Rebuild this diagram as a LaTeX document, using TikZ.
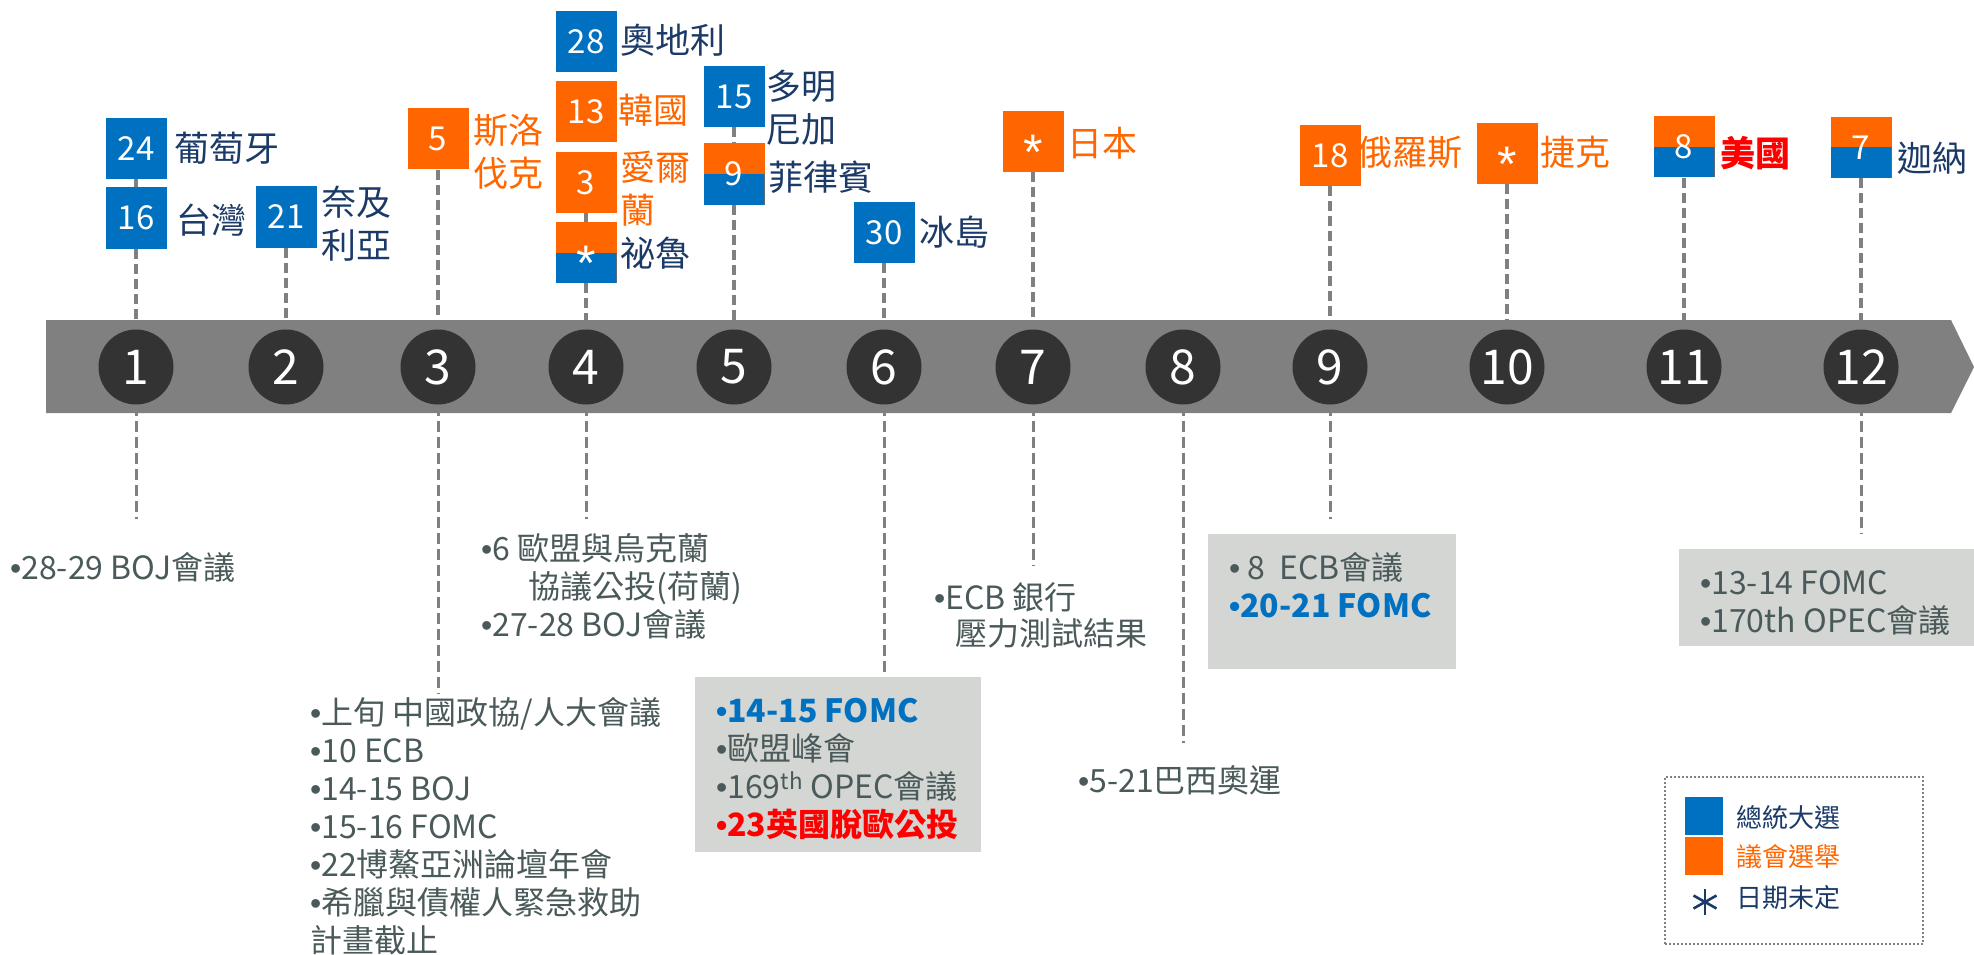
\documentclass[tikz,border=0pt]{standalone}
\usepackage{fontspec}
\setmainfont{Noto Sans CJK TC}
\newfontfamily\bufont{Liberation Sans}
\definecolor{cblue}{HTML}{0070C0}
\definecolor{corange}{HTML}{FF6600}
\definecolor{cnavy}{HTML}{1B3A68}
\definecolor{ctext}{HTML}{4A5959}
\definecolor{cgraybox}{HTML}{D4D6D3}
\definecolor{cbar}{HTML}{808080}
\definecolor{ccirc}{HTML}{333333}
\definecolor{cdash}{HTML}{808080}
\definecolor{cred}{HTML}{FF0000}
\pgfdeclarelayer{bg}
\pgfsetlayers{bg,main}
\newcommand\hs{\rule{0pt}{0.88em}}
\newcommand\bu{{\bufont •}}
\newcommand\tbdast{{\fontsize{50}{50}\bufont\raisebox{-0.21em}[0.716em][0pt]{*}}}
\begin{document}
\begin{tikzpicture}[x=1pt,y=-1pt,
  circ/.style={circle,fill=ccirc,minimum size=75,inner sep=0,text=white,font=\fontsize{48}{48}\selectfont},
  flagbox/.style={minimum width=61,minimum height=61,inner sep=0,text=white,font=\fontsize{33}{33}\selectfont},
  bluebox/.style={flagbox,fill=cblue},
  orangebox/.style={flagbox,fill=corange},
  splitbox/.style={flagbox,fill=corange,path picture={\fill[cblue] (path picture bounding box.west) rectangle (path picture bounding box.south east);}},
  lab/.style={inner sep=0,font=\fontsize{35}{43}\selectfont,align=left,text=cnavy},
  olab/.style={lab,text=corange},
  dashline/.style={draw=cdash,line width=3.5,dash pattern=on 10pt off 5pt},
  lowdash/.style={draw=cdash,line width=3,dash pattern=on 11pt off 5pt},
  txt/.style={inner sep=0,font=\fontsize{32}{38}\selectfont,align=left,text=ctext},
  graybox/.style={fill=cgraybox,inner sep=0,anchor=north west},
  legtxt/.style={inner sep=0,anchor=west,font=\fontsize{26}{30}\selectfont}
]
\useasboundingbox (0,0) rectangle (1974,955);

% timeline bar
\fill[cbar] (46,320) -- (1951,320) -- (1974,367) -- (1951,413) -- (46,413) -- cycle;

% month circles
\foreach \i/\x in {1/136,2/286,3/438,4/586,5/734,6/884,7/1033,8/1183,9/1330,10/1507,11/1684,12/1861}
  \node[circ] (c\i) at (\x,367) {\i};

% flag boxes
\node[bluebox] (b24) at (136,148.5) {24};
\node[bluebox] (b16) at (136,218) {16};
\node[bluebox] (b21) at (286,217) {21};
\node[orangebox] (b5) at (438,139) {5};
\node[bluebox] (b28) at (586,41.5) {28};
\node[orangebox] (b13) at (586,111.5) {13};
\node[orangebox] (b3) at (586,182.5) {3};
\node[splitbox] (bs4) at (586,252.5) {\tbdast};
\node[bluebox] (b15) at (734,96.5) {15};
\node[splitbox] (b9) at (734,174) {9};
\node[bluebox] (b30) at (884,232.5) {30};
\node[orangebox] (bjp) at (1033,141.5) {\tbdast};
\node[orangebox] (b18) at (1330,155.5) {18};
\node[orangebox] (bcz) at (1507,153.5) {\tbdast};
\node[splitbox] (b8) at (1684,147) {8};
\node[splitbox] (b7) at (1861,147.5) {7};

% country labels
\node[lab,anchor=west] (l24) at (174,148) {葡萄牙};
\node[lab,anchor=west] (l16) at (176,220) {台灣};
\node[lab,anchor=west] (l21) at (321,223.5) {奈及\\利亞};
\node[olab,anchor=west] (l5) at (473,151.5) {斯洛\\伐克};
\node[lab,anchor=west] (l28) at (620,40) {奧地利};
\node[olab,anchor=west] (l13) at (618,110) {韓國};
\node[olab,anchor=west] (l3) at (620,188.5) {愛爾\\蘭};
\node[lab,anchor=west] (ls4) at (620,253) {祕魯};
\node[lab,anchor=west] (l15) at (766,107.5) {多明\\尼加};
\node[lab,anchor=west] (l9) at (768,177) {菲律賓};
\node[lab,anchor=west] (l30) at (919,232) {冰島};
\node[olab,anchor=west] (ljp) at (1067,143) {日本};
\node[olab,anchor=west] (l18) at (1357,152) {俄羅斯};
\node[olab,anchor=west] (lcz) at (1540,152) {捷克};
\node[lab,anchor=west,text=cred,font=\fontsize{35}{43}\selectfont\bfseries] (l8) at (1720,153) {美國};
\node[lab,anchor=west] (l7) at (1897,158) {迦納};

% gray boxes
\node[graybox,minimum width=286,minimum height=175] (g6) at (695,677) {};
\node[graybox,minimum width=248,minimum height=135] (g9) at (1208,534) {};
\node[graybox,minimum width=295,minimum height=97] (g12) at (1679,549) {};

% free ends of lower connectors
\coordinate (e1) at (136,519);
\coordinate (e3) at (438,693);
\coordinate (e4) at (586,519);
\coordinate (e7) at (1033,565);
\coordinate (e8) at (1183,743);
\coordinate (e9) at (1330,519);
\coordinate (e12) at (1861,534);

% event texts
\node[txt,anchor=west] (t1) at (10,567) {\bu{}28-29 BOJ會議};
\node[txt,anchor=north west] (t3) at (310,696) {\hs\bu{}上旬 中國政協/人大會議\\\bu{}10 ECB\\\bu{}14-15 BOJ\\\bu{}15-16 FOMC\\\bu{}22博鰲亞洲論壇年會\\\bu{}希臘與債權人緊急救助\\計畫截止};
\node[txt,anchor=north west] (t4) at (481,532) {\hs\bu{}6 歐盟與烏克蘭\\\hspace*{47pt}協議公投(荷蘭)\\\bu{}27-28 BOJ會議};
\node[txt,anchor=north west] (t6) at (716,694) {\hs{\color{cblue}\bfseries \bu{}14-15 FOMC}\\\bu{}歐盟峰會\\\bu{}169\textsuperscript{th} OPEC會議\\{\color{cred}\bfseries \bu{}23英國脫歐公投}};
\node[txt,anchor=north west,font=\fontsize{32}{36}\selectfont] (t7) at (934,581) {\hs\bu{}ECB 銀行\\\hspace*{21pt}壓力測試結果};
\node[txt,anchor=west] (t8) at (1078,780) {\bu{}5-21巴西奧運};
\node[txt,anchor=north west] (t9) at (1229,551) {\hs\bu{}\ 8\ \ ECB會議\\{\color{cblue}\bfseries \bu{}20-21 FOMC}};
\node[txt,anchor=north west] (t12) at (1700,566) {\hs\bu{}13-14 FOMC\\\bu{}170th OPEC會議};

% legend
\node[draw=cdash,line width=2,dash pattern=on 2pt off 2pt,minimum width=258,minimum height=167,inner sep=0,anchor=north west] (legend) at (1664,776) {};
\node[fill=cblue,minimum width=38,minimum height=38,inner sep=0,anchor=north west] (kblue) at (1685,797) {};
\node[fill=corange,minimum width=38,minimum height=38,inner sep=0,anchor=north west] (korange) at (1685,837) {};
\coordinate (kast) at (1705,902);
\draw[cnavy,line width=2.6] (kast) ++(0,-13) -- ++(0,26);
\draw[cnavy,line width=2.6] (kast) ++(-11.5,-6.5) -- ++(23,13);
\draw[cnavy,line width=2.6] (kast) ++(-11.5,6.5) -- ++(23,-13);
\node[legtxt,text=cnavy] (kt1) at (1736,818) {總統大選};
\node[legtxt,text=corange] (kt2) at (1736,857) {議會選舉};
\node[legtxt,text=cnavy] (kt3) at (1736,898) {日期未定};

% dashed connectors
\begin{pgfonlayer}{bg}
\draw[dashline] (b24) -- (b16);
\draw[dashline] (b16) -- (c1);
\draw[dashline] (b21) -- (c2);
\draw[dashline] (b5) -- (c3);
\draw[dashline] (b3) -- (bs4);
\draw[dashline] (bs4) -- (c4);
\draw[dashline] (b15) -- (b9);
\draw[dashline] (b9) -- (c5);
\draw[dashline] (b30) -- (c6);
\draw[dashline] (bjp) -- (c7);
\draw[dashline] (b18) -- (c9);
\draw[dashline] (bcz) -- (c10);
\draw[dashline] (b8) -- (c11);
\draw[dashline] (b7) -- (c12);
\draw[lowdash] (c1) -- (e1);
\draw[lowdash] (c3) -- (e3);
\draw[lowdash] (c4) -- (e4);
\draw[lowdash] (c6) -- (c6 |- g6.north);
\draw[lowdash] (c7) -- (e7);
\draw[lowdash] (c8) -- (e8);
\draw[lowdash] (c9) -- (e9);
\draw[lowdash] (c12) -- (e12);
\end{pgfonlayer}
\end{tikzpicture}
\end{document}
